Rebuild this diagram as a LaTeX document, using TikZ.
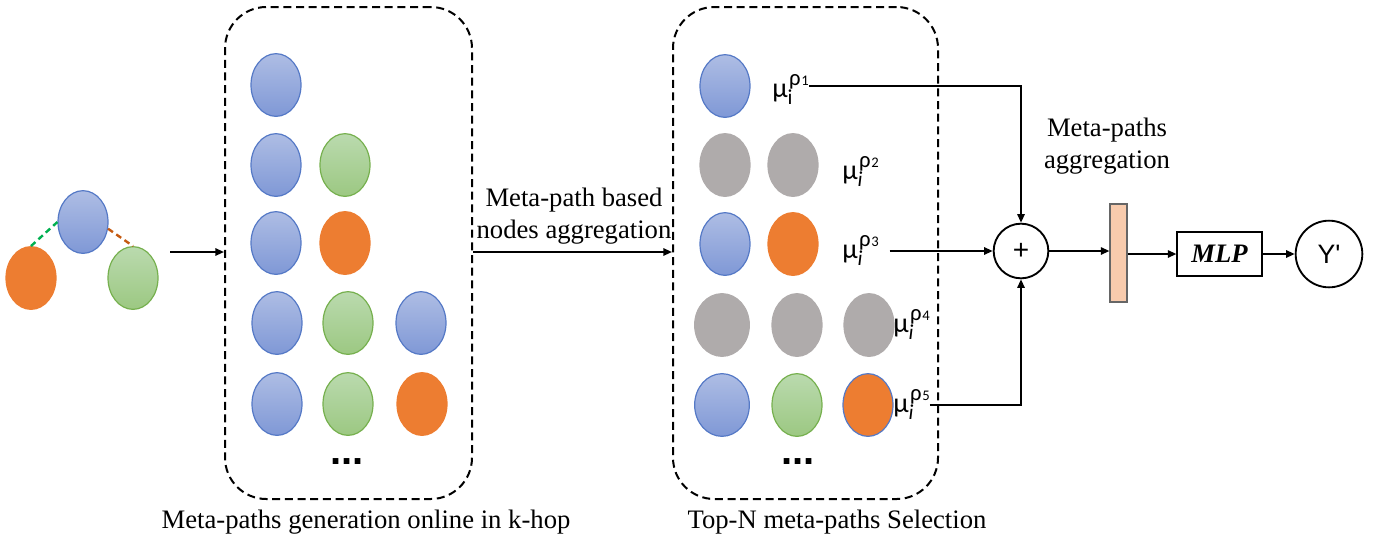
\documentclass[tikz,border=0pt]{standalone}
\usepackage{fontspec}
\setmainfont{Liberation Serif}
\newfontfamily\calib{Carlito}
\newfontfamily\arialf{Liberation Sans}
\usetikzlibrary{shapes.geometric,arrows.meta}
\definecolor{btop}{HTML}{AEBDE4}
\definecolor{bbot}{HTML}{7F98D6}
\definecolor{bborder}{HTML}{5579C6}
\definecolor{gtop}{HTML}{BADAAE}
\definecolor{gbot}{HTML}{9CC882}
\definecolor{gborder}{HTML}{76B04E}
\definecolor{ofill}{HTML}{ED7D31}
\definecolor{yfill}{HTML}{AFABAB}
\definecolor{peach}{HTML}{F8CBAD}
\definecolor{gdash}{HTML}{00B050}
\definecolor{odash}{HTML}{C55A11}
\newcommand\mulab[2]{μ\makebox[0pt][l]{\raisebox{-0.28em}{\fontsize{16}{16}\selectfont #1}}\kern0.05em\raisebox{0.42em}{\fontsize{17}{17}\selectfont ρ\kern0.03em\fontsize{11}{11}\selectfont #2}}
\begin{document}
\begin{tikzpicture}[x=0.75pt,y=-0.75pt,
  ell/.style={ellipse, inner sep=0pt, minimum width=37.5pt, minimum height=47pt, line width=0.9pt},
  bnode/.style={ell, draw=bborder, top color=btop, bottom color=bbot},
  gnode/.style={ell, draw=gborder, top color=gtop, bottom color=gbot},
  onode/.style={ell, draw=ofill, fill=ofill},
  ynode/.style={ell, draw=yfill, fill=yfill},
  dashbox/.style={draw, rounded corners=31pt, line width=1.5pt, dash pattern=on 6pt off 3.5pt, minimum height=369pt, inner sep=0pt},
  conn/.style={line width=1.4pt, -{Triangle[length=6.5pt,width=5.5pt]}},
  txt/.style={font=\fontsize{20}{24}\selectfont, inner sep=0pt, align=center},
  mu/.style={font=\calib\fontsize{21}{21}\selectfont, inner sep=0pt, anchor=base west},
  dots/.style={font=\arialf\bfseries\fontsize{30}{30}\selectfont, inner sep=0pt}
]
\useasboundingbox (0,0) rectangle (1379,540);

% left graph
\node[bnode] (g1) at (83,222) {};
\node[onode] (g2) at (31,278) {};
\node[gnode] (g3) at (133,278) {};
\draw[gdash, line width=1.8pt, dash pattern=on 4.5pt off 3pt] (g2.north) -- (g1.west);
\draw[odash, line width=1.8pt, dash pattern=on 4.5pt off 3pt] (g1.-15) -- (g3.north);
\coordinate (a0) at (170,252);

% left box
\node[dashbox, minimum width=185.25pt] (boxL) at (348.5,253) {};
\node[bnode] (L11) at (276,85) {};
\node[bnode] (L21) at (276,165) {};
\node[gnode] (L22) at (345,165) {};
\node[bnode] (L31) at (276,243) {};
\node[onode] (L32) at (345,243) {};
\node[bnode] (L41) at (277,323) {};
\node[gnode] (L42) at (348,323) {};
\node[bnode] (L43) at (421,323) {};
\node[bnode] (L51) at (277,404) {};
\node[gnode] (L52) at (348,404) {};
\node[onode] (L53) at (422,404) {};
\node[dots] (dL) at (347,462) {...};

% right box
\node[dashbox, minimum width=198.75pt] (boxR) at (805.5,253) {};
\node[bnode] (R11) at (725,86) {};
\node[ynode] (R21) at (725,165) {};
\node[ynode] (R22) at (793,165) {};
\node[bnode] (R31) at (725,244) {};
\node[onode] (R32) at (793,244) {};
\node[ynode, minimum width=41pt] (R41) at (722,325) {};
\node[ynode] (R42) at (797,325) {};
\node[ynode] (R43) at (869,325) {};
\node[bnode, minimum width=41pt] (R51) at (722,405) {};
\node[gnode] (R52) at (797,405) {};
\node[onode, draw=bborder] (R53) at (868,405) {};
\node[dots] (dR) at (798,462) {...};

% mu labels
\node[mu] (m1) at (772,97) {\mulab{i}{1}};
\node[mu] (m2) at (842,179) {\mulab{\itshape i}{2}};
\node[mu] (m3) at (842,258) {\mulab{\itshape i}{3}};
\node[mu] (m4) at (893,332) {\mulab{\itshape i}{4}};
\node[mu] (m5) at (893,412) {\mulab{\itshape i}{5}};

% texts
\node[txt] (t1) at (574,216) {Meta-path based\\nodes aggregation};
\node[txt] (t2) at (1107,146) {Meta-paths\\aggregation};
\node[txt, anchor=base] (t3) at (366,528) {Meta-paths generation online in k-hop};
\node[txt, anchor=base] (t4) at (837,528) {Top-N meta-paths Selection};

% right part
\node[circle, draw, line width=1.4pt, minimum size=41pt, inner sep=0pt, font=\arialf\fontsize{21}{21}\selectfont] (plus) at (1021,251) {+};
\node[rectangle, draw=black!60, line width=0.8pt, fill=peach, minimum width=12.75pt, minimum height=73.5pt, inner sep=0pt] (bar) at (1118.5,253) {};
\node[rectangle, draw, line width=0.8pt, minimum width=63.75pt, minimum height=33pt, inner sep=0pt, font=\bfseries\itshape\fontsize{20}{20}\selectfont] (mlp) at (1219.5,254) {MLP};
\node[circle, draw, line width=1.4pt, minimum size=50pt, inner sep=0pt, font=\arialf\fontsize{20}{20}\selectfont] (yp) at (1329,254) {Y'};

% connectors
\draw[conn] (a0) -- (a0 -| boxL.west);
\draw[conn] (boxL.east |- a0) -- (boxR.west |- a0);
\draw[conn] (m1.east |- R11) -| (plus.north);
\draw[conn] ([xshift=8pt]m3.east |- plus) -- (plus.west);
\draw[conn] (m5.east |- R51) -| (plus.south);
\draw[conn] (plus.east) -- (plus.east -| bar.west);
\draw[conn] (bar.east |- mlp) -- (mlp.west);
\draw[conn] (mlp.east) -- (yp.west);
\end{tikzpicture}
\end{document}
